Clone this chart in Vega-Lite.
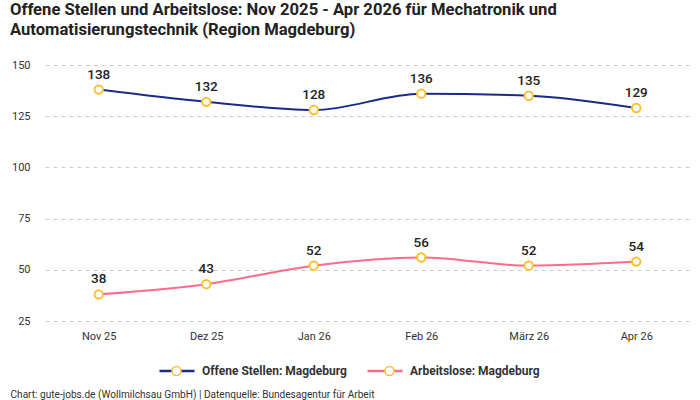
{
  "$schema": "https://vega.github.io/schema/vega-lite/v6.json",
  "width": 645,
  "height": 256,
  "autosize": {"type": "none"},
  "padding": {"left": 45, "top": 65, "right": 10, "bottom": 79},
  "background": "white",
  "title": {
    "text": ["Offene Stellen und Arbeitslose: Nov 2025 - Apr 2026 für Mechatronik und", "Automatisierungstechnik (Region Magdeburg)"],
    "anchor": "start",
    "frame": "group",
    "dx": -35,
    "offset": 20,
    "font": "Roboto",
    "fontSize": 16.6,
    "fontWeight": "bold",
    "color": "#222222",
    "lineHeight": 20
  },
  "config": {
    "view": {"stroke": null},
    "font": "Roboto",
    "axis": {"labelFont": "Roboto", "labelFontSize": 11, "labelColor": "#333333"},
    "legend": {
      "orient": "none",
      "direction": "horizontal",
      "title": null,
      "labelFont": "Roboto",
      "labelFontSize": 12,
      "labelFontWeight": "bold",
      "labelColor": "#333333",
      "labelOffset": 6,
      "columnPadding": 15,
      "symbolSize": 1225,
      "legendX": 113,
      "legendY": 287
    }
  },
  "data": {
    "values": [
      {"monat": "Nov 25", "serie": "Offene Stellen: Magdeburg", "wert": 138},
      {"monat": "Dez 25", "serie": "Offene Stellen: Magdeburg", "wert": 132},
      {"monat": "Jan 26", "serie": "Offene Stellen: Magdeburg", "wert": 128},
      {"monat": "Feb 26", "serie": "Offene Stellen: Magdeburg", "wert": 136},
      {"monat": "März 26", "serie": "Offene Stellen: Magdeburg", "wert": 135},
      {"monat": "Apr 26", "serie": "Offene Stellen: Magdeburg", "wert": 129},
      {"monat": "Nov 25", "serie": "Arbeitslose: Magdeburg", "wert": 38},
      {"monat": "Dez 25", "serie": "Arbeitslose: Magdeburg", "wert": 43},
      {"monat": "Jan 26", "serie": "Arbeitslose: Magdeburg", "wert": 52},
      {"monat": "Feb 26", "serie": "Arbeitslose: Magdeburg", "wert": 56},
      {"monat": "März 26", "serie": "Arbeitslose: Magdeburg", "wert": 52},
      {"monat": "Apr 26", "serie": "Arbeitslose: Magdeburg", "wert": 54}
    ]
  },
  "encoding": {
    "x": {
      "field": "monat",
      "type": "ordinal",
      "sort": ["Nov 25", "Dez 25", "Jan 26", "Feb 26", "März 26", "Apr 26"],
      "scale": {"type": "point", "padding": 0.5},
      "axis": {
        "title": "Chart: gute-jobs.de (Wollmilchsau GmbH) | Datenquelle: Bundesagentur für Arbeit",
        "titleX": -35,
        "titleY": 76,
        "titleAlign": "left",
        "titleAnchor": null,
        "titleBaseline": "alphabetic",
        "titleFont": "Roboto",
        "titleFontSize": 10.1,
        "titleFontWeight": "normal",
        "titleColor": "#333333",
        "labelAngle": 0,
        "labelPadding": 9,
        "domain": false,
        "ticks": false,
        "grid": false
      }
    },
    "y": {
      "field": "wert",
      "type": "quantitative",
      "scale": {"domain": [25, 150], "nice": false, "zero": false},
      "axis": {
        "title": null,
        "values": [25, 50, 75, 100, 125, 150],
        "domain": false,
        "ticks": false,
        "labelPadding": 15,
        "grid": true,
        "gridColor": "#cccccc",
        "gridDash": [4, 4],
        "gridWidth": 1
      }
    }
  },
  "layer": [
    {
      "mark": {"type": "line", "interpolate": "monotone", "strokeWidth": 2},
      "encoding": {
        "color": {
          "field": "serie",
          "type": "nominal",
          "scale": {
            "domain": ["Offene Stellen: Magdeburg", "Arbeitslose: Magdeburg"],
            "range": ["#1a2a8a", "#ff6b88"]
          },
          "legend": {
            "symbolType": "M-1,0L1,0",
            "symbolStrokeWidth": 2.5
          }
        }
      }
    },
    {
      "mark": {"type": "point", "shape": "circle", "filled": false, "fill": "white", "fillOpacity": 1, "stroke": "#fbc02d", "strokeWidth": 2, "size": 70, "opacity": 1},
      "encoding": {
        "opacity": {
          "field": "serie",
          "type": "nominal",
          "scale": {"range": [1, 1]},
          "legend": {
            "symbolType": "M0.26,0A0.26,0.26,0,1,1,-0.26,0A0.26,0.26,0,1,1,0.26,0Z",
            "labelExpr": "''",
            "columnPadding": 170,
            "encode": {
              "symbols": {
                "update": {
                  "fill": {"value": "white"},
                  "fillOpacity": {"value": 1},
                  "stroke": {"value": "#fbc02d"},
                  "strokeWidth": {"value": 2},
                  "opacity": {"value": 1}
                }
              }
            }
          }
        }
      }
    },
    {
      "mark": {"type": "text", "dy": -15, "font": "Roboto", "fontSize": 13.5, "fontWeight": 500, "color": "#222222"},
      "encoding": {
        "text": {"field": "wert", "type": "quantitative"}
      }
    }
  ]
}
